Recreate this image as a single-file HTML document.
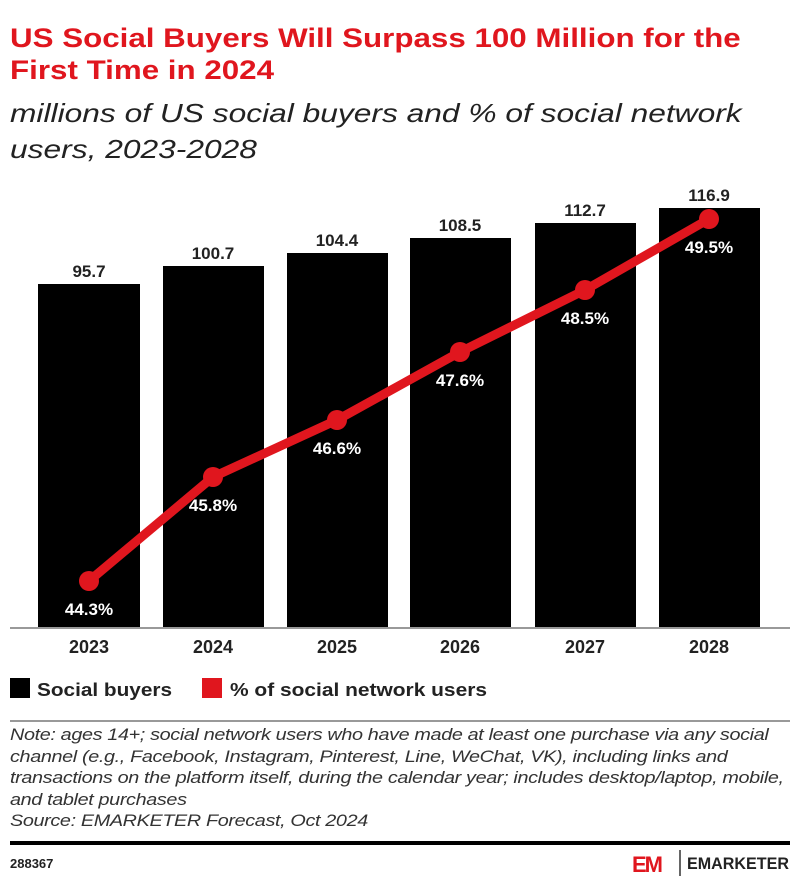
<!DOCTYPE html><html><head><style>
body{margin:0;width:800px;height:882px;background:#fff;font-family:"Liberation Sans",sans-serif;position:relative;overflow:hidden}
.t{position:absolute;left:10px;top:22px;color:#e0161e;font-weight:bold;font-size:27px;line-height:32px;transform:scaleX(1.16);transform-origin:left top;white-space:nowrap}
.s{position:absolute;left:10px;top:95px;font-style:italic;font-size:26px;line-height:36px;color:#222;transform:scaleX(1.22);transform-origin:left top;white-space:nowrap}
.n{position:absolute;left:10px;top:725px;font-style:italic;font-size:16.5px;line-height:21.5px;color:#333;letter-spacing:-0.3px;transform:scaleX(1.2);transform-origin:left top;white-space:nowrap}
</style></head><body>
<div class="t">US Social Buyers Will Surpass 100 Million for the<br>First Time in 2024</div>
<div class="s">millions of US social buyers and % of social network<br>users, 2023-2028</div>
<svg width="800" height="882" style="position:absolute;left:0;top:0" font-family="Liberation Sans, sans-serif">
<g fill="#000">
<rect x="38" y="284" width="102" height="344"/><rect x="163" y="266" width="101" height="362"/><rect x="287" y="253" width="101" height="375"/><rect x="410" y="238" width="101" height="390"/><rect x="535" y="223" width="101" height="405"/><rect x="659" y="208" width="101" height="420"/>
</g>
<g font-size="17" font-weight="bold" text-anchor="middle" fill="#222">
<text x="89" y="277">95.7</text><text x="213" y="259">100.7</text><text x="337" y="246">104.4</text><text x="460" y="231">108.5</text><text x="585" y="216">112.7</text><text x="709" y="201">116.9</text>
</g>
<line x1="10" y1="628" x2="790" y2="628" stroke="#999" stroke-width="2"/>
<polyline points="89,581 213,477 337,420 460,352 585,290 709,219" fill="none" stroke="#e0161e" stroke-width="9" stroke-linejoin="round"/>
<g fill="#e0161e"><circle cx="89" cy="581" r="10"/><circle cx="213" cy="477" r="10"/><circle cx="337" cy="420" r="10"/><circle cx="460" cy="352" r="10"/><circle cx="585" cy="290" r="10"/><circle cx="709" cy="219" r="10"/></g>
<g font-size="17" font-weight="bold" text-anchor="middle" fill="#fff">
<text x="89" y="615">44.3%</text><text x="213" y="511">45.8%</text><text x="337" y="454">46.6%</text><text x="460" y="386">47.6%</text><text x="585" y="324">48.5%</text><text x="709" y="253">49.5%</text>
</g>
<g font-size="18" font-weight="bold" text-anchor="middle" fill="#222">
<text x="89" y="653">2023</text><text x="213" y="653">2024</text><text x="337" y="653">2025</text><text x="460" y="653">2026</text><text x="585" y="653">2027</text><text x="709" y="653">2028</text>
</g>
<rect x="10" y="678" width="20" height="20" fill="#000"/>
<text x="37" y="696" font-size="18" font-weight="bold" fill="#222" textLength="135" lengthAdjust="spacingAndGlyphs">Social buyers</text>
<rect x="202" y="678" width="20" height="20" fill="#e0161e"/>
<text x="230" y="696" font-size="18" font-weight="bold" fill="#222" textLength="257" lengthAdjust="spacingAndGlyphs">% of social network users</text>
<line x1="10" y1="721" x2="790" y2="721" stroke="#999" stroke-width="2"/>
<line x1="10" y1="843" x2="790" y2="843" stroke="#000" stroke-width="4"/>
<text x="10" y="868" font-size="13" font-weight="bold" fill="#222">288367</text>
<text x="632" y="872" font-size="22" font-weight="bold" fill="#e0161e" letter-spacing="-2">EM</text>
<line x1="680" y1="850" x2="680" y2="876" stroke="#333" stroke-width="1.5"/>
<text x="687" y="869" font-size="17" font-weight="bold" fill="#222" textLength="102" lengthAdjust="spacingAndGlyphs">EMARKETER</text>
</svg>
<div class="n">Note: ages 14+; social network users who have made at least one purchase via any social<br>channel (e.g., Facebook, Instagram, Pinterest, Line, WeChat, VK), including links and<br>transactions on the platform itself, during the calendar year; includes desktop/laptop, mobile,<br>and tablet purchases<br>Source: EMARKETER Forecast, Oct 2024</div>
</body></html>
